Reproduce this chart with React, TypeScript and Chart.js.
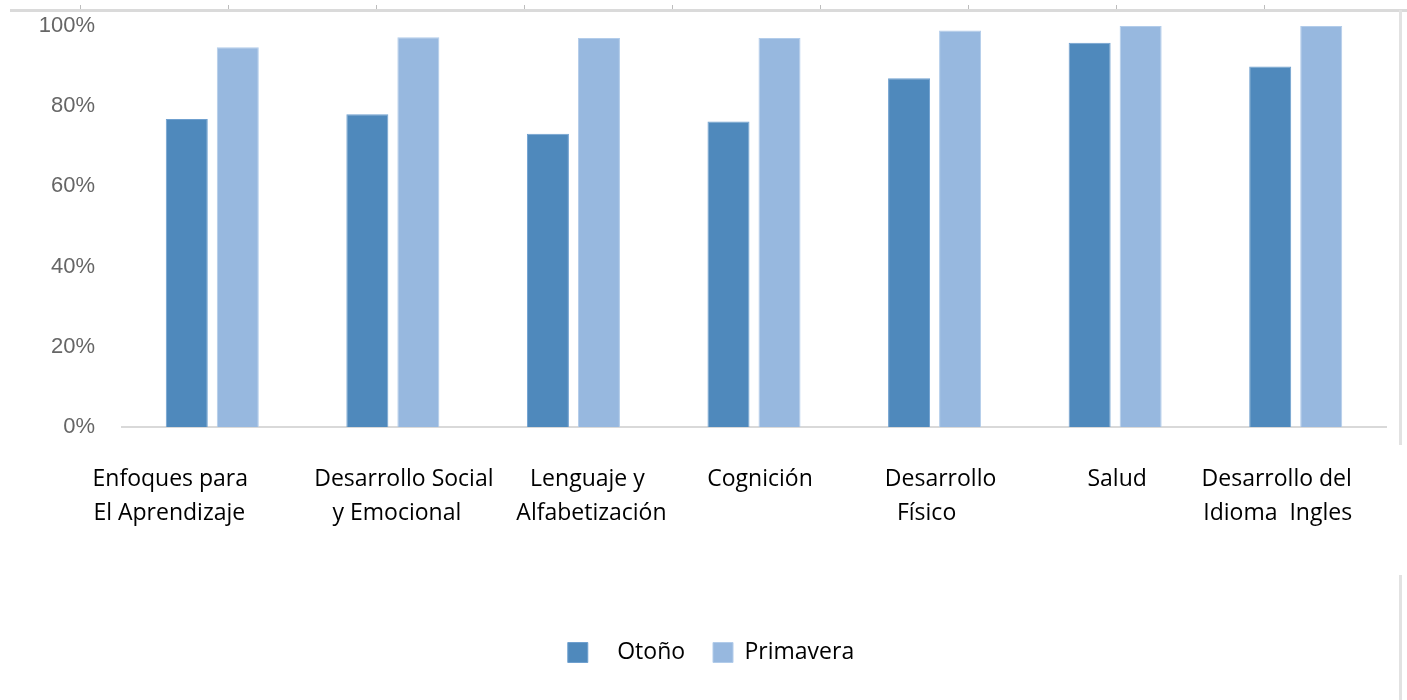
import React, { useEffect, useRef } from 'react';
import { Chart, registerables } from 'chart.js';

Chart.register(...registerables);

// ---- data ----
const categories: string[][] = [
  ['Enfoques para', 'El Aprendizaje'],
  ['Desarrollo Social', 'y Emocional'],
  ['Lenguaje y', 'Alfabetización'],
  ['Cognición'],
  ['Desarrollo', 'Físico'],
  ['Salud'],
  ['Desarrollo del', 'Idioma  Ingles'],
];
const otono = [76.8, 78.0, 73.1, 76.2, 87.0, 95.8, 89.9];
const primavera = [94.7, 97.2, 97.0, 97.0, 98.9, 100, 100];
const seriesNames = ['Otoño', 'Primavera'];
const yTickValues = [0, 20, 40, 60, 80, 100];

// ---- style / label placement ----
const labelShift: number[][] = [[-42, -43], [11, 4], [14, 18], [6], [6, -8], [2], [-19, -18]];
const OTONO_FILL = '#4F89BC';
const OTONO_EDGE = '#6FA0CF';
const PRIM_FILL = '#97B8DF';
const PRIM_EDGE = '#B2CCEA';
const LEGEND_SHIFT = 18;

const xLabelPlugin = {
  id: 'xCategoryLabels',
  afterDraw(chart: any) {
    const ctx = chart.ctx;
    const xs = chart.scales.x;
    const base = chart.chartArea.bottom;
    ctx.save();
    ctx.font = '23px "Open Sans"';
    ctx.fillStyle = '#000';
    ctx.textAlign = 'center';
    ctx.textBaseline = 'alphabetic';
    (chart.data.labels as string[][]).forEach((lab, i) => {
      lab.forEach((line, j) => {
        ctx.fillText(line, xs.getPixelForValue(i) + labelShift[i][j], base + 59 + j * 34);
      });
    });
    ctx.restore();
  },
};

const legendShiftPlugin = {
  id: 'legendShift',
  afterLayout(chart: any) {
    if (chart.legend) {
      chart.legend.left += LEGEND_SHIFT;
      chart.legend.right += LEGEND_SHIFT;
    }
  },
};

export default function App() {
  const canvasRef = useRef<HTMLCanvasElement | null>(null);

  useEffect(() => {
    document.body.style.margin = '0';
    document.body.style.overflow = 'hidden';
    const canvas = canvasRef.current;
    if (!canvas) return;
    const chart = new Chart(canvas, {
      type: 'bar',
      data: {
        labels: categories as any,
        datasets: [
          {
            label: seriesNames[0],
            data: otono,
            backgroundColor: OTONO_FILL,
            borderColor: OTONO_EDGE,
            borderWidth: 1,
            barPercentage: 0.8235,
            categoryPercentage: 0.565,
          },
          {
            label: seriesNames[1],
            data: primavera,
            backgroundColor: PRIM_FILL,
            borderColor: PRIM_EDGE,
            borderWidth: 1,
            barPercentage: 0.8235,
            categoryPercentage: 0.565,
          },
        ],
      },
      options: {
        responsive: false,
        animation: false,
        devicePixelRatio: 1,
        layout: { padding: { top: 26, right: 21, bottom: 26, left: 0 } },
        scales: {
          x: {
            ticks: { display: false },
            grid: { display: false, drawTicks: false },
            border: { display: true, color: '#D9D9D9', width: 2 },
            afterFit: (s: any) => {
              s.height = 204;
            },
          },
          y: {
            min: 0,
            max: 100,
            afterBuildTicks: (s: any) => {
              s.ticks = yTickValues.map((v) => ({ value: v }));
            },
            ticks: {
              callback: (v: any) => `${v}%`,
              color: '#666666',
              font: { family: '"Liberation Sans", Arial, sans-serif', size: 22 },
              padding: 0,
            },
            grid: { display: false, drawTicks: true, tickLength: 27 },
            border: { display: false },
            afterFit: (s: any) => {
              s.width = 122;
            },
          },
        },
        plugins: {
          tooltip: { enabled: false },
          legend: {
            display: true,
            position: 'bottom',
            labels: {
              boxWidth: 20,
              boxHeight: 20,
              padding: 10,
              color: '#000',
              font: { family: '"Open Sans", sans-serif', size: 23 },
              generateLabels: (c: any) => {
                const items = Chart.defaults.plugins.legend.labels.generateLabels(c);
                return items.map((it: any, i: number) => ({
                  ...it,
                  text: i === 0 ? `   ${it.text}   ` : it.text,
                }));
              },
            },
          },
        },
      },
      plugins: [xLabelPlugin, legendShiftPlugin],
    });
    return () => chart.destroy();
  }, []);

  const topTicks = [80, 228, 376, 524, 672, 820, 968, 1116, 1264];

  return (
    <div style={{ position: 'relative', width: 1407, height: 700, background: '#fff', overflow: 'hidden' }}>
      <canvas ref={canvasRef} width={1407} height={700} style={{ position: 'absolute', left: 0, top: 0 }} />
      <div style={{ position: 'absolute', left: 10, top: 9, width: 1397, height: 3, background: '#DADADA' }} />
      {topTicks.map((x) => (
        <div key={x} style={{ position: 'absolute', left: x, top: 5, width: 1, height: 4, background: '#BDBDBD' }} />
      ))}
      <div style={{ position: 'absolute', left: 1399, top: 10, width: 3, height: 435, background: '#E2E2E2' }} />
      <div style={{ position: 'absolute', left: 1399, top: 575, width: 3, height: 125, background: '#E2E2E2' }} />
    </div>
  );
}
